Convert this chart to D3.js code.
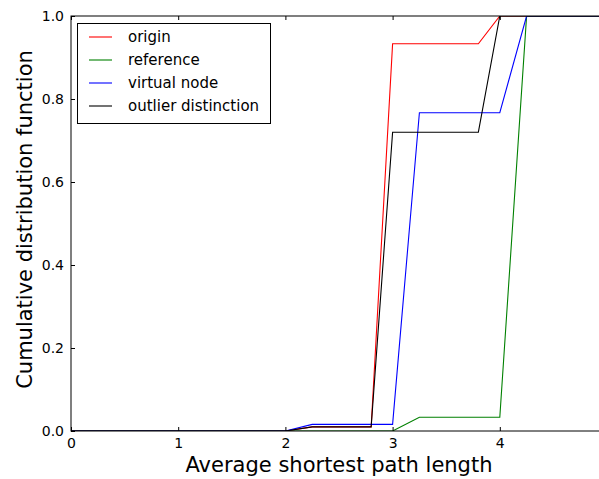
<!DOCTYPE html>
<html>
<head>
<meta charset="utf-8">
<script src="https://cdn.jsdelivr.net/npm/d3@7"></script>
<style>
  body { margin: 0; background: #fff; }
  svg { display: block; font-family: "DejaVu Sans", sans-serif; }
</style>
</head>
<body>
<div id="chart"></div>
<script>

// series
var seriesNames = ["origin", "reference", "virtual node", "outlier distinction"]
var seriesColors = ["#ff0000", "#008000", "#0000ff", "#000000"]

var originX = [0, 2, 2.25, 2.8, 3, 3.8, 4, 5]
var originY = [0, 0, 0.01, 0.01, 0.933, 0.933, 1, 1]

var referenceX = [0, 3, 3.25, 4, 4.25, 5]
var referenceY = [0, 0, 0.033, 0.033, 1, 1]

var virtualX = [0, 2, 2.25, 3, 3.25, 4, 4.25, 5]
var virtualY = [0, 0, 0.016, 0.016, 0.767, 0.767, 1, 1]

var outlierX = [0, 2, 2.25, 2.8, 3, 3.8, 4, 5]
var outlierY = [0, 0, 0.01, 0.01, 0.72, 0.72, 1, 1]

var xTicks = [0, 1, 2, 3, 4]
var yTicks = [0, 0.2, 0.4, 0.6, 0.8, 1.0]

var xLabel = "Average shortest path length"
var yLabel = "Cumulative distribution function"

var width = 599
var height = 479
var plotLeft = 71, plotRight = 607, plotTop = 16, plotBottom = 431

var x = d3.scaleLinear().domain([0, 5]).range([plotLeft, plotRight])
var y = d3.scaleLinear().domain([0, 1]).range([plotBottom, plotTop])

var svg = d3.select("#chart").append("svg")
  .attr("width", width)
  .attr("height", height)

svg.append("clipPath").attr("id", "plotclip")
  .append("rect")
  .attr("x", plotLeft).attr("y", plotTop)
  .attr("width", plotRight - plotLeft).attr("height", plotBottom - plotTop)

var pairs = function(xs, ys) { return xs.map((v, i) => [v, ys[i]]) }
var data = [
  pairs(originX, originY),
  pairs(referenceX, referenceY),
  pairs(virtualX, virtualY),
  pairs(outlierX, outlierY)
]

var line = d3.line()
  .x(d => x(d[0]))
  .y(d => y(d[1]))

svg.append("g")
  .attr("clip-path", "url(#plotclip)")
  .selectAll("path")
  .data(data)
  .enter().append("path")
  .attr("d", line)
  .attr("fill", "none")
  .attr("stroke", (d, i) => seriesColors[i])
  .attr("stroke-width", 1.1)

// axes, matplotlib classic: inward ticks
var tickLen = 4
var xAxisB = d3.axisBottom(x).tickValues(xTicks).tickSizeInner(-tickLen).tickSizeOuter(0).tickPadding(7).tickFormat(d3.format("d"))
var xAxisT = d3.axisTop(x).tickValues(xTicks).tickSizeInner(-tickLen).tickSizeOuter(0).tickFormat("")
var yAxisL = d3.axisLeft(y).tickValues(yTicks).tickSizeInner(-tickLen).tickSizeOuter(0).tickPadding(7).tickFormat(d3.format(".1f"))

function style(g) {
  g.select(".domain").remove()
  g.selectAll(".tick line").attr("stroke", "#000").attr("stroke-width", 1)
  g.selectAll(".tick text")
    .attr("fill", "#000")
    .style("font-size", "14px")
    .style("font-family", "DejaVu Sans, sans-serif")
}

svg.append("g").attr("transform", `translate(0,${plotBottom})`).call(xAxisB).call(style)
svg.append("g").attr("transform", `translate(0,${plotTop})`).call(xAxisT).call(style)
svg.append("g").attr("transform", `translate(${plotLeft},0)`).call(yAxisL).call(style)

svg.append("rect")
  .attr("x", plotLeft).attr("y", plotTop)
  .attr("width", plotRight - plotLeft).attr("height", plotBottom - plotTop)
  .attr("fill", "none")
  .attr("stroke", "#000")
  .attr("stroke-width", 1)

svg.append("text")
  .attr("x", (plotLeft + plotRight) / 2)
  .attr("y", 472)
  .attr("text-anchor", "middle")
  .style("font-size", "21px")
  .attr("fill", "#000")
  .text(xLabel)

svg.append("text")
  .attr("transform", `translate(32,${(plotTop + plotBottom) / 2 - 4}) rotate(-90)`)
  .attr("text-anchor", "middle")
  .style("font-size", "21px")
  .attr("fill", "#000")
  .text(yLabel)

// legend
var legend = svg.append("g")
legend.append("rect")
  .attr("x", 77.5).attr("y", 23.5)
  .attr("width", 193).attr("height", 100)
  .attr("fill", "#fff")
  .attr("stroke", "#000")
  .attr("stroke-width", 1)

var rows = legend.selectAll(".row")
  .data(seriesNames)
  .enter().append("g")
  .attr("class", "row")
  .attr("transform", (d, i) => `translate(0,${37 + i * 23})`)

rows.append("line")
  .attr("x1", 89).attr("x2", 112)
  .attr("y1", 0).attr("y2", 0)
  .attr("stroke", (d, i) => seriesColors[i])
  .attr("stroke-width", 1.1)

rows.append("text")
  .attr("x", 128)
  .attr("dy", "0.35em")
  .style("font-size", "15px")
  .attr("fill", "#000")
  .text(d => d)

</script>
</body>
</html>
